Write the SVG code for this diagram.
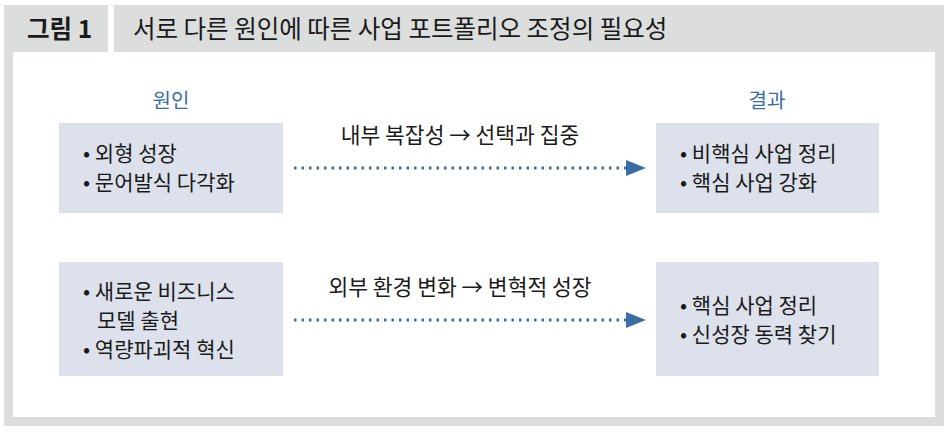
<svg xmlns="http://www.w3.org/2000/svg" width="948" height="433" viewBox="0 0 948 433">
<style>
text{font-family:"Noto Sans CJK KR","Noto Sans",sans-serif;fill:#1a1a1a}
.t{font-size:24.5px}
.h{font-size:20px;fill:#3a6ea5}
.b{font-size:21px}
.c{font-size:21.5px}
.box{fill:#dce1ec}
.dot{stroke:#3a6ea5;stroke-width:3;stroke-dasharray:2.5 5;fill:none}
</style>
<defs><marker id="ah" markerWidth="20" markerHeight="16" refX="1" refY="8" orient="auto" markerUnits="userSpaceOnUse"><path d="M0,0L20,8L0,16z" fill="#3a6ea5"/></marker></defs>
<rect x="4" y="5" width="940" height="421" fill="#dcdddd"/>
<rect x="13" y="52" width="922" height="365" fill="#fff"/>
<rect x="108" y="5" width="6" height="47" fill="#fff"/>
<text class="t" x="27" y="38" font-weight="bold">그림 1</text>
<text class="t" x="133" y="38">서로 다른 원인에 따른 사업 포트폴리오 조정의 필요성</text>
<text class="h" x="171" y="108" text-anchor="middle">원인</text>
<text class="h" x="767" y="108" text-anchor="middle">결과</text>
<g id="n1"><rect class="box" x="59" y="123" width="224" height="90"/><text class="b" x="83" y="161">• 외형 성장</text><text class="b" x="83" y="190">• 문어발식 다각화</text></g>
<g id="n2"><rect class="box" x="656" y="123" width="223" height="90"/><text class="b" x="680" y="161">• 비핵심 사업 정리</text><text class="b" x="680" y="190">• 핵심 사업 강화</text></g>
<g id="n3"><rect class="box" x="59" y="262" width="224" height="114"/><text class="b" x="83" y="299">• 새로운 비즈니스</text><text class="b" x="97" y="328">모델 출현</text><text class="b" x="83" y="357">• 역량파괴적 혁신</text></g>
<g id="n4"><rect class="box" x="656" y="262" width="223" height="114"/><text class="b" x="680" y="313">• 핵심 사업 정리</text><text class="b" x="680" y="342">• 신성장 동력 찾기</text></g>
<g id="connectors">
<path class="dot" d="M294,168H627" marker-end="url(#ah)"/>
<text class="c" x="460" y="143" text-anchor="middle">내부 복잡성 → 선택과 집중</text>
<path class="dot" d="M294,320H627" marker-end="url(#ah)"/>
<text class="c" x="460" y="295" text-anchor="middle">외부 환경 변화 → 변혁적 성장</text>
</g>
</svg>
